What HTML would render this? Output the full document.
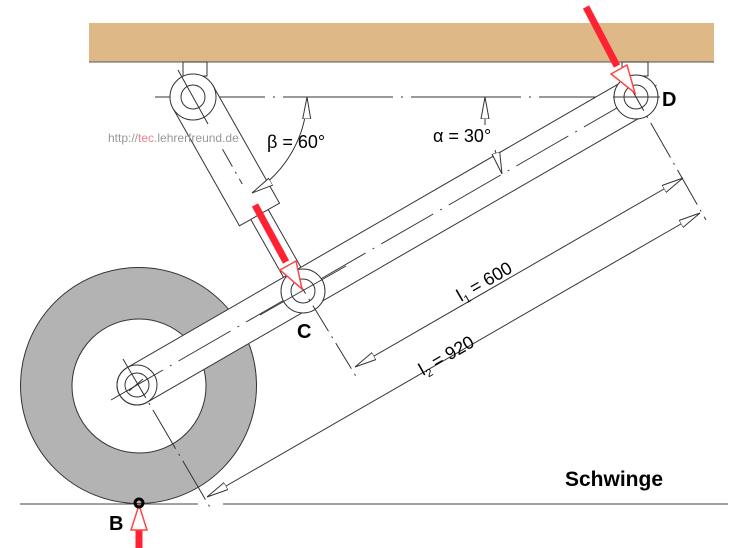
<!DOCTYPE html>
<html><head><meta charset="utf-8"><style>
html,body{margin:0;padding:0;background:#fff;}
svg{display:block;}
text{font-family:"Liberation Sans",sans-serif;}
</style></head><body>
<svg width="745" height="548" viewBox="0 0 745 548" xmlns="http://www.w3.org/2000/svg">
<defs>
<marker id="oa" viewBox="0 0 22 10" refX="22" refY="5" markerWidth="22" markerHeight="10" markerUnits="userSpaceOnUse" orient="auto-start-reverse">
<path d="M0,1 L22,5 L0,9 Z" fill="#fff" stroke="#333" stroke-width="1"/></marker>
</defs>
<rect x="89" y="23" width="625" height="39" fill="#deb887"/>
<line x1="89" y1="62" x2="714" y2="62" stroke="#555" stroke-width="1"/>
<circle cx="138.5" cy="385.5" r="118" fill="#b3b3b3" stroke="#333" stroke-width="1"/>
<circle cx="139" cy="386" r="67" fill="#fff" stroke="#333" stroke-width="1"/>
<line x1="20" y1="504" x2="198" y2="504" stroke="#444"/>
<line x1="223" y1="504" x2="728" y2="504" stroke="#444"/>
<line x1="155" y1="97" x2="660" y2="97" stroke="#333" stroke-dasharray="110,8,2,8"/>
<rect x="183" y="62" width="24" height="14" fill="#fff" stroke="#333"/>
<rect x="622" y="62" width="26" height="14" fill="#fff" stroke="#333"/>
<g transform="translate(193,97) rotate(60.5)">
<rect x="0" y="-10" width="210" height="20" fill="#fff" stroke="#333"/>
<rect x="0" y="-23" width="135" height="46" fill="#fff" stroke="#333"/>
<line x1="60" y1="0" x2="100" y2="0" stroke="#333" stroke-dasharray="20,6,2,6"/>
</g>
<circle cx="193" cy="97" r="23" fill="#fff" stroke="#333"/>
<circle cx="193" cy="97" r="12" fill="none" stroke="#333"/>
<line x1="178" y1="70" x2="208" y2="124" stroke="#333"/>
<g transform="translate(137,385) rotate(-30)">
<path d="M0,-20 L577,-20 A20,20 0 0 1 577,20 L0,20 A20,20 0 0 1 0,-20 Z" fill="#fff" stroke="#333"/>
<line x1="-30" y1="0" x2="600" y2="0" stroke="#333" stroke-dasharray="60,8,2,8"/>
</g>
<circle cx="137" cy="385" r="20" fill="none" stroke="#333"/>
<circle cx="137" cy="385" r="12" fill="none" stroke="#333"/>
<circle cx="636" cy="97" r="22" fill="#fff" stroke="#333"/>
<circle cx="636" cy="97" r="12" fill="none" stroke="#333"/>
<line x1="613" y1="97" x2="660" y2="97" stroke="#333"/>
<circle cx="303" cy="291" r="22" fill="#fff" stroke="#333"/>
<circle cx="303" cy="291" r="12" fill="none" stroke="#333"/>
<line x1="260" y1="315" x2="346" y2="266" stroke="#333"/>
<line x1="624" y1="76" x2="706" y2="220" stroke="#333" stroke-dasharray="40,6,2,6"/>
<line x1="290" y1="268" x2="357" y2="378" stroke="#333" stroke-dasharray="30,6,2,6"/>
<line x1="123" y1="359" x2="211" y2="509" stroke="#333" stroke-dasharray="45,6,2,6"/>
<line x1="129" y1="391" x2="143" y2="379" stroke="#333"/>
<line x1="355" y1="367" x2="683" y2="178" stroke="#333" marker-start="url(#oa)" marker-end="url(#oa)"/>
<line x1="207" y1="497" x2="700" y2="213" stroke="#333" marker-start="url(#oa)" marker-end="url(#oa)"/>
<line x1="485" y1="125" x2="485" y2="97" stroke="#333" marker-end="url(#oa)"/>
<line x1="495" y1="150" x2="502" y2="174" stroke="#333" marker-end="url(#oa)"/>
<path d="M307,97 A114,114 0 0 1 252,193" fill="none" stroke="#333" marker-start="url(#oa)" marker-end="url(#oa)"/>
<text x="267" y="148" font-size="18">β = 60°</text>
<text x="433" y="142" font-size="18">α = 30°</text>
<text x="0" y="0" font-size="18" transform="translate(461,302) rotate(-30)">l<tspan font-size="11" dy="4">1</tspan><tspan dy="-4"> = 600</tspan></text>
<text x="0" y="0" font-size="18" transform="translate(423,376) rotate(-30)">l<tspan font-size="11" dy="4">2</tspan><tspan dy="-4"> = 920</tspan></text>
<text x="662" y="106" font-size="20" font-weight="bold">D</text>
<text x="297" y="338" font-size="20" font-weight="bold">C</text>
<text x="109" y="530" font-size="20" font-weight="bold">B</text>
<text x="565" y="486" font-size="21" font-weight="bold">Schwinge</text>
<text x="108" y="142" font-size="12" fill="#999">http://<tspan fill="#f08090">tec</tspan>.lehrerfreund.de</text>
<g stroke="#f23" fill="none">
<line x1="586" y1="7" x2="617" y2="66" stroke-width="7"/>
<line x1="255" y1="205" x2="286" y2="262" stroke-width="7"/>
<line x1="139" y1="548" x2="139" y2="530" stroke-width="7"/>
</g>
<g fill="#fff" stroke="#f44" stroke-width="1.5">
<path d="M611,74 L627,65 L635,93 Z"/>
<path d="M280,270 L296,261 L302,289 Z"/>
<path d="M131,530 L147,530 L139,505 Z"/>
</g>
<circle cx="139" cy="503" r="4" fill="none" stroke="#000" stroke-width="3"/>
</svg>
</body></html>
